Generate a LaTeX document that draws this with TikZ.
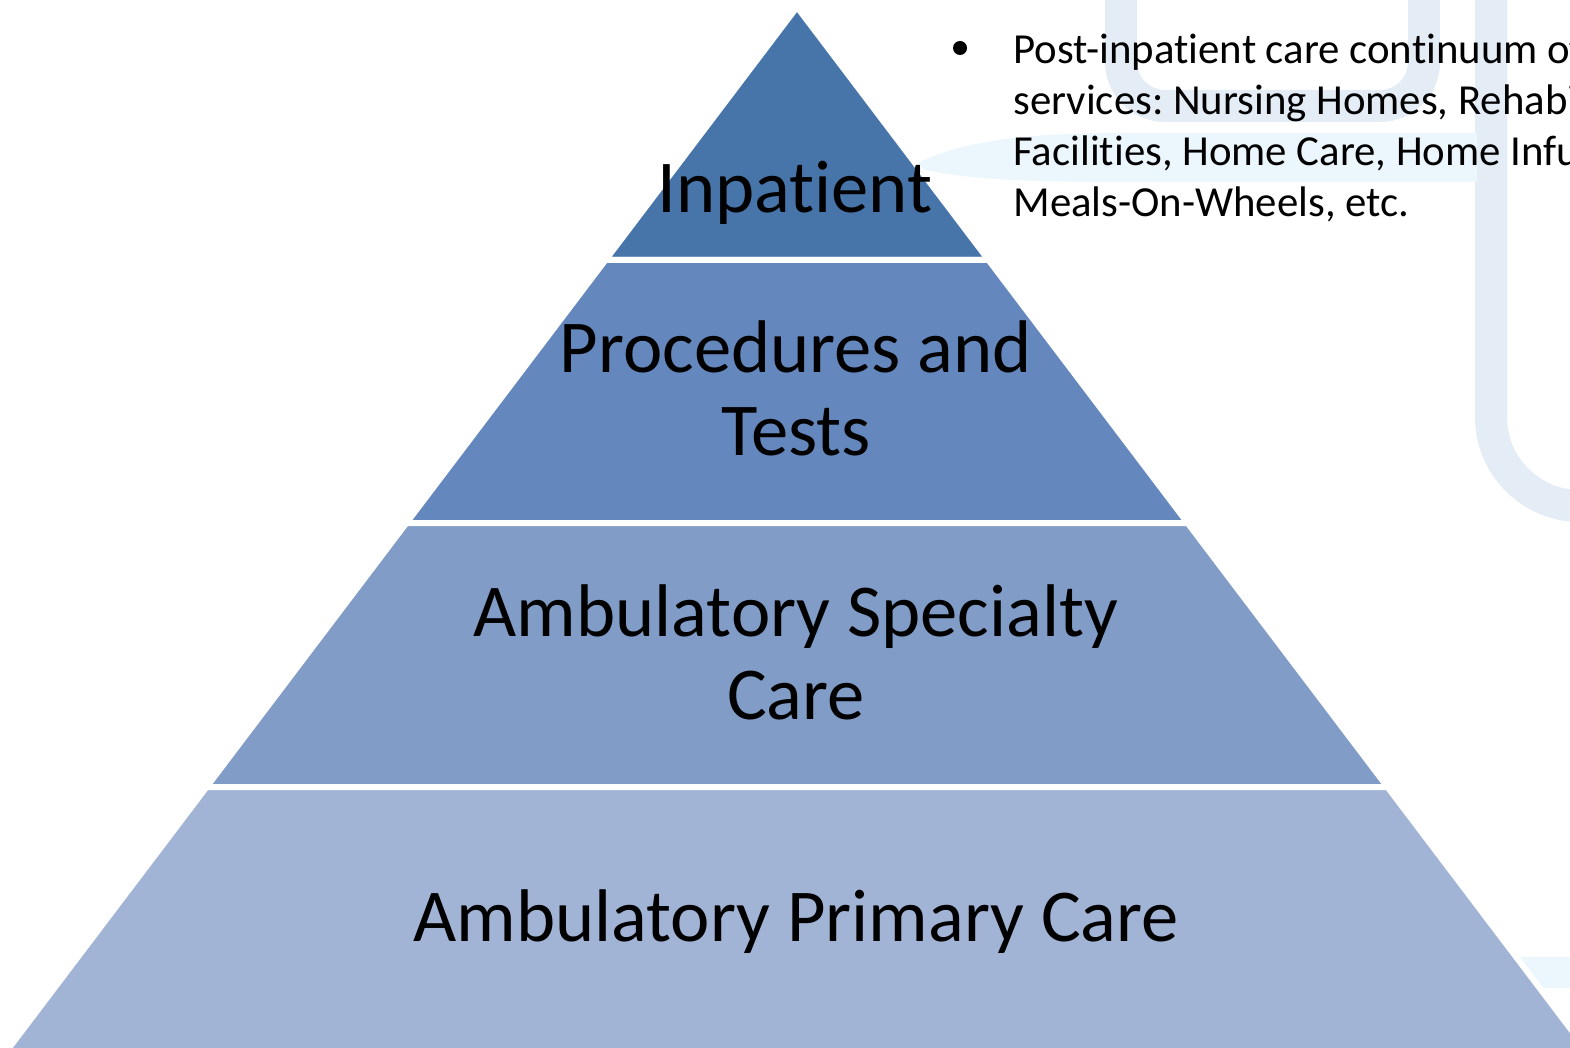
\documentclass[tikz,border=0pt]{standalone}
\usepackage{fontspec}
\setmainfont{Carlito}[Ligatures=NoCommon]

\definecolor{tierA}{HTML}{4775AA}
\definecolor{tierB}{HTML}{6488BD}
\definecolor{tierC}{HTML}{809CC7}
\definecolor{tierD}{HTML}{A2B4D5}
\definecolor{markgray}{HTML}{E4ECF5}
\definecolor{markcyan}{HTML}{ECF6FD}

\begin{document}
\frenchspacing
\begin{tikzpicture}[x=0.5pt, y=-0.5pt,
  every node/.style={inner sep=0pt, font=\fontsize{37.3}{41.5}\selectfont},
  tier/.style={draw=white, line width=3pt, line join=miter},
  bgbar/.style={markgray, line width=16pt}]

\useasboundingbox (0,0) rectangle (1570,1048);
\clip (0,0) rectangle (1570,1048);

% light marks in the background
\draw[bgbar, rounded corners=22pt] (1121,-20) -- (1121,106) -- (1424,106) -- (1424,-20);
\draw[bgbar] (1491,-20) -- (1491,417) arc[start angle=180, end angle=90, radius=89] -- (1600,506);
\fill[markcyan] (912,166) .. controls (960,140) and (1030,133) .. (1120,133)
  -- (1477,133) -- (1477,182) -- (1120,182) .. controls (1010,182) and (950,178) .. (912,166) -- cycle;
\fill[markcyan] (1515,957) rectangle (1600,988);

% pyramid, one tier per band
\foreach \ya/\yb/\c in {7/260/tierA, 260/523/tierB, 523/787/tierC, 787/1080/tierD}{
    \fill[tier, fill=\c] ({797-0.757*(\ya-7)},\ya) -- ({797+0.757*(\ya-7)},\ya)
        -- ({797+0.757*(\yb-7)},\yb) -- ({797-0.757*(\yb-7)},\yb) -- cycle;
}

\node (inpatient) [anchor=base] at (795,213) {Inpatient};
\node (tests) [anchor=base, align=center] at (796,455) {Procedures and\\Tests};
\node (specialty) [anchor=base, align=center] at (796,719) {Ambulatory Specialty\\Care};
\node (primary) [anchor=base] at (796,941) {Ambulatory Primary Care};

\node (dot) [circle, fill=black, minimum size=7pt] at (960,48) {};
\node (continuum) [anchor=base west, align=left, font=\fontsize{21.4}{25.65}\selectfont] at (1013,217)
  {Post-inpatient care continuum of\\services: Nursing Homes, Rehabilitation\\Facilities, Home Care, Home Infusion,\\Meals-On-Wheels, etc.};

\end{tikzpicture}
\end{document}
